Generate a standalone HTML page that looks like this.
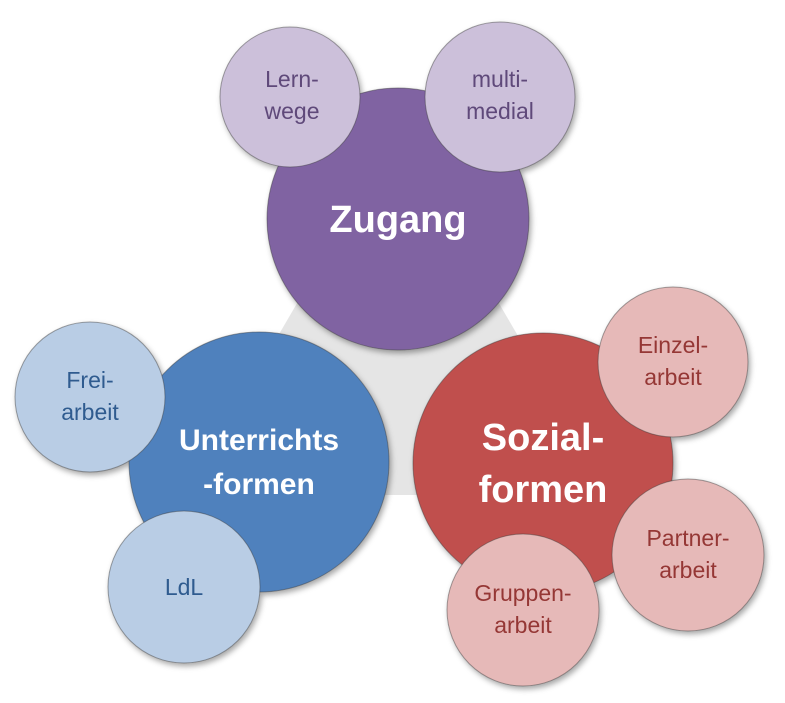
<!DOCTYPE html>
<html><head><meta charset="utf-8"><style>
body{margin:0;background:#fff;}
</style></head><body>
<svg width="785" height="698" viewBox="0 0 785 698" xmlns="http://www.w3.org/2000/svg" font-family="Liberation Sans, sans-serif">
<defs>
<filter id="s" x="-20%" y="-20%" width="140%" height="140%"><feDropShadow dx="2" dy="3" stdDeviation="3" flood-color="#000" flood-opacity="0.35"/></filter>
</defs>
<path d="M398 140 L602 490 L194 490 Z" fill="#e5e5e5" stroke="#e5e5e5" stroke-width="10" stroke-linejoin="round"/>
<g filter="url(#s)" stroke="#3a3a3a" stroke-opacity="0.45" stroke-width="1">
<circle cx="398" cy="219" r="131" fill="#8064a2"/>
<circle cx="290" cy="97" r="70" fill="#ccc0da"/>
<circle cx="500" cy="97" r="75" fill="#ccc0da"/>
<circle cx="259" cy="462" r="130" fill="#4f81bd"/>
<circle cx="90" cy="397" r="75" fill="#b9cde5"/>
<circle cx="184" cy="587" r="76" fill="#b9cde5"/>
<circle cx="543" cy="463" r="130" fill="#c0504d"/>
<circle cx="673" cy="362" r="75" fill="#e6b9b8"/>
<circle cx="688" cy="555" r="76" fill="#e6b9b8"/>
<circle cx="523" cy="610" r="76" fill="#e6b9b8"/>
</g>
<g text-anchor="middle" font-size="23">
<text x="398" y="232" font-size="38" font-weight="bold" fill="#fff">Zugang</text>
<text x="259" y="450" font-size="30" font-weight="bold" fill="#fff">Unterrichts</text>
<text x="259" y="494" font-size="30" font-weight="bold" fill="#fff">-formen</text>
<text x="543" y="450" font-size="38" font-weight="bold" fill="#fff">Sozial-</text>
<text x="543" y="502" font-size="38" font-weight="bold" fill="#fff">formen</text>
<g fill="#5f497a"><text x="292" y="87">Lern-</text><text x="292" y="119">wege</text>
<text x="500" y="87">multi-</text><text x="500" y="119">medial</text></g>
<g fill="#2f5b8f"><text x="90" y="388">Frei-</text><text x="90" y="420">arbeit</text>
<text x="184" y="595">LdL</text></g>
<g fill="#953735"><text x="673" y="353">Einzel-</text><text x="673" y="385">arbeit</text>
<text x="688" y="546">Partner-</text><text x="688" y="578">arbeit</text>
<text x="523" y="601">Gruppen-</text><text x="523" y="633">arbeit</text></g>
</g>
</svg>
</body></html>
